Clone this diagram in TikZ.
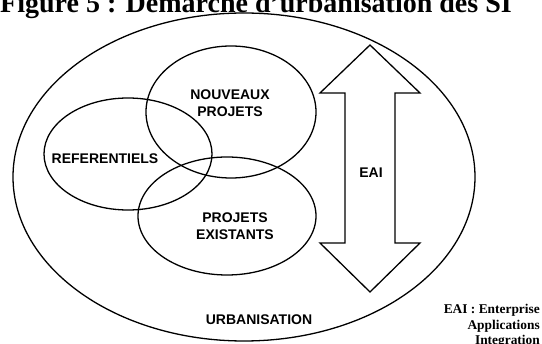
\documentclass[tikz,border=0pt]{standalone}
\usepackage{fontspec}
\setmainfont{Liberation Serif}
\setsansfont{Liberation Sans}
\usetikzlibrary{shapes.geometric}

\begin{document}
\begin{tikzpicture}[x=1pt, y=-1pt,
    zone/.style={ellipse, draw, line width=1.3pt, inner sep=0pt},
    lbl/.style={font=\sffamily\bfseries\fontsize{14}{17}\selectfont, align=center, inner sep=0pt},
    note/.style={font=\rmfamily\bfseries\fontsize{13.4}{15.5}\selectfont, align=right, inner sep=0pt}]
    \clip (0,0) rectangle (542,344);
    \node[font=\rmfamily\bfseries\fontsize{28}{30}\selectfont, anchor=base, inner sep=0pt] (titre) at (256,13) {Figure 5 : Démarche d'urbanisation des SI};

    % ellipses
    \node[zone, minimum width=462, minimum height=328] (urba) at (244,177) {};
    \node[zone, minimum width=170, minimum height=132] (nouv) at (231,112) {};
    \node[zone, minimum width=168, minimum height=112] (ref) at (128,154) {};
    \node[zone, minimum width=178, minimum height=118] (exist) at (227,216) {};

    % double fleche EAI
    \draw[line width=1.3pt, line join=miter] (370,45) -- (420,93) -- (395,93) -- (395,243) -- (420,243) -- (370,292)
        -- (320,243) -- (345,243) -- (345,93) -- (320,93) -- cycle;
    \node[lbl] (eai) at (371,173) {EAI};

    \node[lbl] (nouvtxt) at (230,103) {NOUVEAUX\\PROJETS};
    \node[lbl] (reftxt) at (105,159) {REFERENTIELS};
    \node[lbl] (existtxt) at (235,226) {PROJETS\\EXISTANTS};
    \node[lbl] (urbatxt) at (259,320) {URBANISATION};

    \node[note, anchor=north east] (eainote) at (540,304.5) {EAI : Enterprise\\Applications\\Integration};
\end{tikzpicture}
\end{document}
